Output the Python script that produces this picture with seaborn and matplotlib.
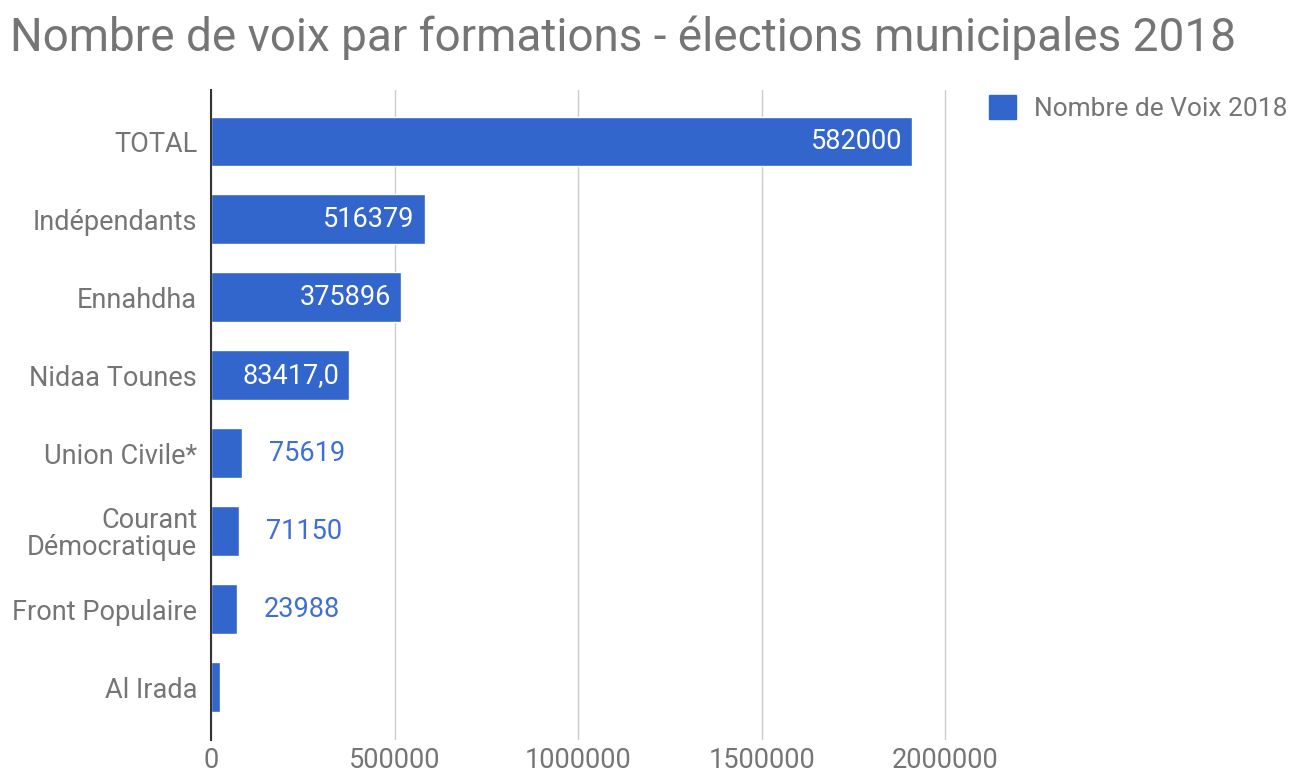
import numpy as np
import pandas as pd
import matplotlib
matplotlib.use('Agg')
import matplotlib.pyplot as plt
import matplotlib.transforms as mtransforms
from matplotlib.patches import Patch
import seaborn as sns

# values as drawn in the source chart (bar lengths) and the label text printed on them
formations = ['TOTAL', 'Indépendants', 'Ennahdha', 'Nidaa Tounes', 'Union Civile*',
              'Courant\nDémocratique', 'Front Populaire', 'Al Irada']
voix_2018 = [1910000, 582000, 516379, 375896, 83417, 75619, 71150, 23988]
value_labels = ['582000', '516379', '375896', '83417,0', '75619', '71150', '23988', '']
xticks = [0, 500000, 1000000, 1500000, 2000000]

BAR_COLOR = '#3366cc'
TEXT_GRAY = '#757575'
FS = 19.5

sns.set_style('white')
plt.rcParams['font.family'] = ['Roboto', 'DejaVu Sans']

df = pd.DataFrame({'formation': formations, 'voix': voix_2018})

fig = plt.figure(figsize=(13.05, 7.78), dpi=100)
ax = fig.add_axes([0.1617, 0.0488, 0.574, 0.8355])

sns.barplot(data=df, x='voix', y='formation', orient='h', color=BAR_COLOR,
            saturation=1, width=0.64, ax=ax)

ax.set_xlim(0, 2040000)
ax.set_ylim(7.68, -0.66)
ax.set_xticks(xticks)
ax.set_xticklabels([str(t) for t in xticks])
ax.set_xlabel('')
ax.set_ylabel('')

for side in ['top', 'right', 'bottom']:
    ax.spines[side].set_visible(False)
ax.spines['left'].set_color('#333333')
ax.spines['left'].set_linewidth(1.5)
ax.spines['left'].set_zorder(5)

ax.grid(axis='x', color='#cccccc', linewidth=1)
ax.set_axisbelow(True)
ax.tick_params(axis='y', length=0, pad=10, labelsize=FS, labelcolor=TEXT_GRAY)
ax.tick_params(axis='x', length=0, pad=5, labelsize=FS, labelcolor=TEXT_GRAY)
for lbl in ax.get_yticklabels():
    lbl.set_linespacing(1.0)

# value labels: inside for long bars, outside for short ones
for patch, txt, val in zip(ax.patches, value_labels, voix_2018):
    y = patch.get_y() + patch.get_height() / 2
    x = patch.get_width()
    if val > 300000:
        off = mtransforms.offset_copy(ax.transData, fig=fig, x=-10, y=0, units='dots')
        ax.text(x, y, txt, transform=off, ha='right', va='center',
                color='white', fontsize=FS)
    else:
        off = mtransforms.offset_copy(ax.transData, fig=fig, x=27, y=0, units='dots')
        ax.text(x, y, txt, transform=off, ha='left', va='center',
                color='#3d6fd6', fontsize=FS)

fig.text(0.008, 0.952, 'Nombre de voix par formations - élections municipales 2018',
         ha='left', va='center', fontsize=33, color=TEXT_GRAY)

handles = [Patch(facecolor=BAR_COLOR, edgecolor=BAR_COLOR, label='Nombre de Voix 2018')]
fig.legend(handles=handles, loc='upper left', bbox_to_anchor=(0.74, 0.908),
           frameon=False, fontsize=19, handlelength=1.0, handleheight=1.0,
           handletextpad=0.7, labelcolor=TEXT_GRAY)

plt.savefig('out.png', dpi=100)
plt.close()
